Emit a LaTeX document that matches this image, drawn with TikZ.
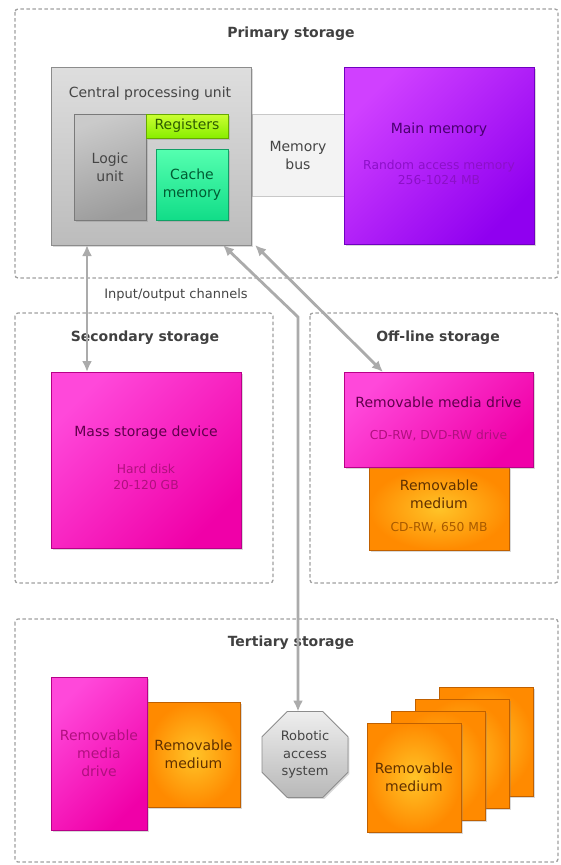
\documentclass[tikz,border=0pt]{standalone}
\usepackage{fontspec}
\setmainfont{DejaVu Sans}
\usetikzlibrary{shapes.geometric,shadows,arrows.meta}

\definecolor{framegray}{HTML}{A0A0A0}
\definecolor{headgray}{HTML}{404040}
\definecolor{txtgray}{HTML}{454545}
\definecolor{arrowgray}{HTML}{ABABAB}
\definecolor{cpulight}{HTML}{DEDEDE}
\definecolor{cpudark}{HTML}{BCBCBC}
\definecolor{cpuedge}{HTML}{8C8C8C}
\definecolor{logiclight}{HTML}{CACACA}
\definecolor{logicdark}{HTML}{9C9C9C}
\definecolor{logicedge}{HTML}{7A7A7A}
\definecolor{regtop}{HTML}{CCFF33}
\definecolor{regbot}{HTML}{88EE00}
\definecolor{regedge}{HTML}{66AA00}
\definecolor{regtext}{HTML}{2E5C00}
\definecolor{cachetop}{HTML}{55FFB0}
\definecolor{cachebot}{HTML}{11DD88}
\definecolor{cacheedge}{HTML}{11A066}
\definecolor{cachetext}{HTML}{005C33}
\definecolor{busfill}{HTML}{F3F3F3}
\definecolor{busedge}{HTML}{C8C8C8}
\definecolor{mainlight}{HTML}{D040FF}
\definecolor{maindark}{HTML}{9000F0}
\definecolor{mainedge}{HTML}{7000C0}
\definecolor{maintext}{HTML}{4A0070}
\definecolor{mainsub}{HTML}{8C10C8}
\definecolor{pinklight}{HTML}{FF48DA}
\definecolor{pinkdark}{HTML}{F000A8}
\definecolor{pinkedge}{HTML}{B80088}
\definecolor{pinktext}{HTML}{60004C}
\definecolor{pinksub}{HTML}{B0107F}
\definecolor{orangein}{HTML}{FFC428}
\definecolor{orangeout}{HTML}{FF8A00}
\definecolor{orangeedge}{HTML}{C06000}
\definecolor{orangetext}{HTML}{603000}
\definecolor{orangesub}{HTML}{A85A00}
\definecolor{robotlight}{HTML}{EEEEEE}
\definecolor{robotdark}{HTML}{B8B8B8}

\begin{document}
\begin{tikzpicture}[x=1pt,y=-1pt,>={Latex[length=11pt,width=10pt]},
    region/.style={draw=framegray,line width=1.3pt,dash pattern=on 3.5pt off 2.5pt,rounded corners=3pt},
    heading/.style={font={\bfseries\fontsize{14}{17}\selectfont},text=headgray},
    txt/.style={font={\fontsize{14}{18}\selectfont},align=center},
    subtxt/.style={font={\fontsize{12.3}{15.5}\selectfont},align=center},
    box/.style={draw,line width=0.8pt,inner sep=0pt,outer sep=0pt,
      drop shadow={opacity=0.3,shadow xshift=1.5pt,shadow yshift=-1.5pt}},
    cpubox/.style={box,draw=cpuedge,top color=cpulight,bottom color=cpudark,text=txtgray},
    logicbox/.style={box,draw=logicedge,top color=logiclight,bottom color=logicdark,shading angle=20,text=txtgray},
    regbox/.style={box,draw=regedge,top color=regtop,bottom color=regbot,text=regtext},
    cachebox/.style={box,draw=cacheedge,top color=cachetop,bottom color=cachebot,text=cachetext},
    busbox/.style={draw=busedge,line width=0.8pt,fill=busfill,inner sep=0pt,text=txtgray},
    mainbox/.style={box,draw=mainedge,top color=mainlight,bottom color=maindark,shading angle=45},
    pinkbox/.style={box,draw=pinkedge,top color=pinklight,bottom color=pinkdark,shading angle=45},
    orangebox/.style={box,draw=orangeedge,inner color=orangein,outer color=orangeout,text=orangetext},
    robotbox/.style={box,regular polygon,regular polygon sides=8,draw=cpuedge,
      top color=robotlight,bottom color=robotdark,text=txtgray},
    conn/.style={draw=arrowgray,line width=2.8pt}]
  \useasboundingbox (0,0) rectangle (561,865);

  % storage regions
  \draw[region] (15,9) rectangle (558,278);
  \draw[region] (15,313) rectangle (273,583);
  \draw[region] (310,313) rectangle (558,583);
  \draw[region] (15,619) rectangle (558,862);
  \node[heading] (primtitle) at (291,34) {Primary storage};
  \node[heading] (sectitle) at (145,338) {Secondary storage};
  \node[heading] (offtitle) at (438,338) {Off-line storage};
  \node[heading] (tertitle) at (291,643) {Tertiary storage};

  % primary storage
  \node[busbox,txt,minimum width=92pt,minimum height=82pt] (bus) at (298,155) {Memory\\bus};
  \node[cpubox,minimum width=200pt,minimum height=178pt] (cpu) at (151,156) {};
  \node[txt,text=txtgray] (cpulabel) at (150,94) {Central processing unit};
  \node[logicbox,txt,minimum width=72pt,minimum height=106pt] (logic) at (110,167) {Logic\\unit};
  \node[regbox,txt,minimum width=82pt,minimum height=24pt] (regs) at (187,126) {Registers};
  \node[cachebox,txt,minimum width=72pt,minimum height=71pt] (cache) at (192,184.5) {Cache\\memory};
  \node[mainbox,minimum width=190pt,minimum height=177pt] (main) at (439,155.5) {};
  \node[txt,text=maintext] (maintitle) at (439,130) {Main memory};
  \node[subtxt,text=mainsub] (mainsub) at (439,172.5) {Random access memory\\256-1024 MB};

  \node[font={\fontsize{13}{16}\selectfont},text=txtgray] (iolabel) at (176,295) {Input/output channels};

  % secondary storage
  \node[pinkbox,minimum width=190pt,minimum height=176pt] (mass) at (146,460) {};
  \node[txt,text=pinktext] (masstitle) at (146,433) {Mass storage device};
  \node[subtxt,text=pinksub] (masssub) at (146,477) {Hard disk\\20-120 GB};

  % off-line storage
  \node[orangebox,minimum width=140pt,minimum height=83pt] (medium) at (439,508.5) {};
  \node[txt,text=orangetext] (mediumtitle) at (439,494) {Removable\\medium};
  \node[subtxt,text=orangesub] (mediumsub) at (439,528) {CD-RW, 650 MB};
  \node[pinkbox,minimum width=189pt,minimum height=95pt] (drive) at (438.5,419.5) {};
  \node[txt,text=pinktext] (drivetitle) at (438.5,402) {Removable media drive};
  \node[subtxt,text=pinksub] (drivesub) at (438.5,436) {CD-RW, DVD-RW drive};

  % tertiary storage
  \node[orangebox,txt,minimum width=93pt,minimum height=105pt] (tmedium) at (193.5,754.5) {Removable\\medium};
  \node[pinkbox,txt,text=pinksub,minimum width=96pt,minimum height=153pt] (tdrive) at (99,753.5) {Removable\\media\\drive};
  \node[robotbox,txt,font={\fontsize{13}{17.5}\selectfont},inner sep=0pt,minimum size=93pt] (robot) at (305,754.5) {Robotic\\access\\system};
  \foreach \i in {3,2,1} {
    \node[orangebox,minimum width=94pt,minimum height=109pt] (card\i) at (414+24*\i,777.5-12*\i) {};
  }
  \node[orangebox,txt,minimum width=94pt,minimum height=109pt] (card0) at (414,777.5) {Removable\\medium};

  % channels
  \coordinate (bend) at (298,317);
  \draw[conn,<->] ([xshift=36pt]cpu.south west) -- ([xshift=36pt]mass.north west);
  \draw[conn,<->] ([xshift=-28pt]cpu.south east) -- (bend) -- (bend |- robot.north);
  \draw[conn,<->] ([xshift=4pt]cpu.south east) -- ([xshift=39pt]drive.north west);
\end{tikzpicture}
\end{document}
